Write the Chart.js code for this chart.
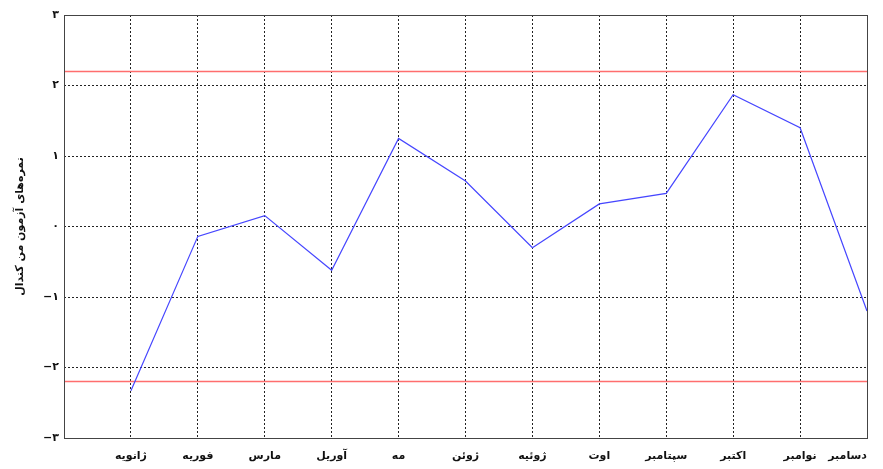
<!DOCTYPE html>
<html><head><meta charset="utf-8">
<script src="https://cdn.jsdelivr.net/npm/chart.js@4"></script>
<style>html,body{margin:0;padding:0;background:#fff}#wrap{width:883px;height:469px}</style>
</head><body><div id="wrap"><canvas id="c" width="883" height="469"></canvas></div>
<script>
const months = ['ژانویه','فوریه','مارس','آوریل','مه','ژوئن','ژوئیه','اوت','سپتامبر','اکتبر','نوامبر','دسامبر'];
const scores = [-2.33,-0.14,0.155,-0.62,1.25,0.645,-0.30,0.32,0.47,1.87,1.40,-1.20];
const upperLimit = 2.2;
const lowerLimit = -2.2;
const yTickValues = [-3,-2,-1,0,1,2,3];
const yTickLabels = ['−۳','−۲','−۱','۰','۱','۲','۳'];
const yTitle = 'نمره‌های آزمون من کندال';

const fam = '"DejaVu Sans", sans-serif';
const frame = {
  id:'frame',
  afterDraw(ch){
    const a = ch.chartArea, c = ch.ctx;
    c.save(); c.strokeStyle='#444'; c.lineWidth=1; c.setLineDash([]);
    c.strokeRect(Math.round(a.left)+0.5, Math.round(a.top)+0.5, Math.round(a.right-a.left), Math.round(a.bottom-a.top));
    c.restore();
  }
};
new Chart(document.getElementById('c'), {
  type:'line',
  data:{datasets:[
    {data: scores.map((v,i)=>({x:i+1,y:v})), borderColor:'rgb(70,70,255)', borderWidth:1.2, pointRadius:0, tension:0},
    {data: [{x:0,y:upperLimit},{x:12,y:upperLimit}], borderColor:'rgb(255,110,110)', borderWidth:1.5, pointRadius:0},
    {data: [{x:0,y:lowerLimit},{x:12,y:lowerLimit}], borderColor:'rgb(255,110,110)', borderWidth:1.5, pointRadius:0}
  ]},
  options:{
    responsive:false, animation:false,
    layout:{padding:{left:0,right:16,top:15,bottom:0}},
    plugins:{legend:{display:false},tooltip:{enabled:false}},
    scales:{
      x:{type:'linear',min:0,max:12,
        afterFit(s){s.height=31; s.paddingLeft=0; s.paddingRight=0;},
        afterBuildTicks(s){s.ticks=Array.from({length:13},(_,i)=>({value:i}));},
        ticks:{autoSkip:false,maxRotation:0,padding:12,align:'inner',color:'#111',font:{family:fam,size:11,weight:'bold'},
          callback:(v)=> v>=1 ? months[v-1] : ''},
        grid:{color:'#222',lineWidth:1,drawTicks:false},
        border:{display:false,dash:[2,2]}
      },
      y:{type:'linear',min:-3,max:3,
        afterFit(s){s.width=64; s.paddingTop=0; s.paddingBottom=0;},
        afterBuildTicks(s){s.ticks=yTickValues.map(v=>({value:v}));},
        ticks:{padding:5,color:'#111',font:{family:fam,size:11,weight:'bold'},
          callback:(v)=> yTickLabels[yTickValues.indexOf(v)]},
        grid:{color:'#222',lineWidth:1,drawTicks:false},
        border:{display:false,dash:[2,2]},
        title:{display:true,text:yTitle,color:'#111',font:{family:fam,size:11,weight:'bold'},padding:{top:14,bottom:0}}
      }
    }
  },
  plugins:[frame]
});
</script></body></html>
